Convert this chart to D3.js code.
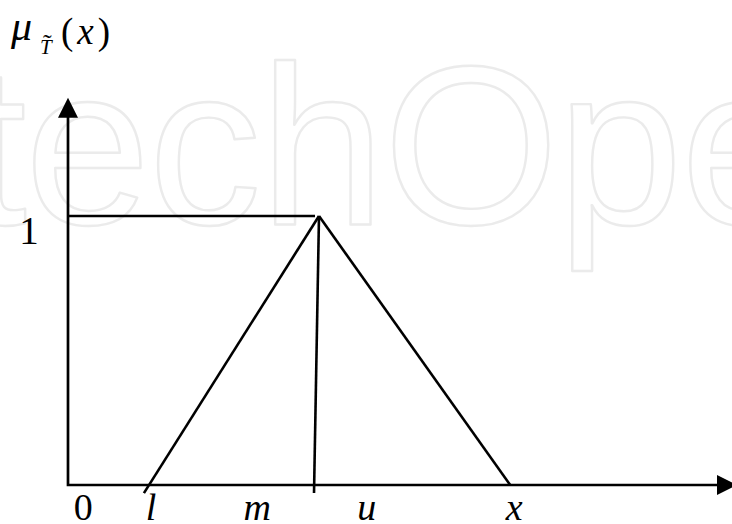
<!DOCTYPE html>
<html>
<head>
<meta charset="utf-8">
<script src="https://cdn.jsdelivr.net/npm/d3@7"></script>
<style>
  html, body { margin: 0; padding: 0; background: #fff; }
  svg { display: block; }
  .serif { font-family: "Liberation Serif", "Times New Roman", serif; fill: #000; }
</style>
</head>
<body>
<div id="root"></div>
<script>
// triangular fuzzy number (l, m, u) on a concept axis
const lVal = 1.22, mVal = 3.78, uVal = 6.66
const peak = 1

// x-axis labels: text and position along the axis
const xLabels = ['0', 'l', 'm', 'u', 'x']
const xLabelPos = [0.23, 1.25, 2.85, 4.5, 6.72]

const yTickLabel = '1'

const w = 732, h = 524

const svg = d3.select('#root')
    .append('svg')
    .attr('width', w)
    .attr('height', h)

const x = d3.scaleLinear().domain([0, 10]).range([68, 732])
const y = d3.scaleLinear().domain([0, 1]).range([485, 216])
const yTop = 1.44

// faint watermark behind the drawing
svg.append('text')
    .attr('x', -36)
    .attr('y', 224)
    .attr('font-family', '"Liberation Sans", Arial, sans-serif')
    .attr('font-size', 226)
    .attr('letter-spacing', -2)
    .attr('fill', 'none')
    .attr('stroke', '#ebebeb')
    .attr('stroke-width', 2.4)
    .attr('stroke-linejoin', 'round')
    .text('techOpen')

const line = d3.line().x(d => x(d[0])).y(d => y(d[1]))

// axes
svg.append('path')
    .attr('d', line([[0, yTop - 0.07], [0, 0], [9.97, 0]]))
    .attr('fill', 'none')
    .attr('stroke', '#000')
    .attr('stroke-width', 2.7)

// arrow heads
const yTip = [x(0), y(yTop)]
svg.append('path')
    .attr('d', `M${yTip[0]},${yTip[1]} L${yTip[0] - 10},${yTip[1] + 20} L${yTip[0] + 10},${yTip[1] + 20} Z`)
    .attr('fill', '#000')
const xTip = [x(10) + 5, y(0)]
svg.append('path')
    .attr('d', `M${xTip[0]},${xTip[1]} L${xTip[0] - 20},${xTip[1] - 10} L${xTip[0] - 20},${xTip[1] + 10} Z`)
    .attr('fill', '#000')

// left leg slightly extended below the axis
const slopeL = (mVal - lVal) / peak
const below = -0.03
const drawn = [
    [[lVal + slopeL * below, below], [mVal, peak]],
    [[mVal, peak], [uVal, 0]],
    [[mVal, peak], [mVal - 0.075, below]],
    [[0, peak], [mVal - 0.06, peak]]
]

svg.selectAll('.seg')
    .data(drawn)
    .enter()
    .append('path')
    .attr('class', 'seg')
    .attr('d', d => line(d))
    .attr('fill', 'none')
    .attr('stroke', '#000')
    .attr('stroke-width', 2.6)

// x labels
svg.selectAll('.xlab')
    .data(xLabels)
    .enter()
    .append('text')
    .attr('class', 'xlab serif')
    .attr('x', (d, i) => x(xLabelPos[i]))
    .attr('y', 520)
    .attr('text-anchor', 'middle')
    .attr('font-size', 38)
    .attr('font-style', (d, i) => i === 0 ? 'normal' : 'italic')
    .text(d => d)

// y tick label
svg.append('text')
    .attr('class', 'serif')
    .attr('x', 29)
    .attr('y', y(peak) + 28)
    .attr('text-anchor', 'middle')
    .attr('font-size', 39)
    .text(yTickLabel)

// axis title mu_T~(x)
const title = svg.append('g').attr('class', 'serif')
title.append('text')
    .attr('x', 11)
    .attr('y', 40)
    .attr('font-size', 42)
    .attr('font-style', 'italic')
    .text('μ')
title.append('text')
    .attr('x', 40)
    .attr('y', 54)
    .attr('font-size', 21)
    .attr('font-style', 'italic')
    .text('T')
title.append('text')
    .attr('x', 43)
    .attr('y', 52)
    .attr('font-size', 26)
    .text('˜')
title.append('text')
    .attr('x', 61)
    .attr('y', 44)
    .attr('font-size', 37)
    .attr('letter-spacing', 4)
    .html('(<tspan font-style="italic">x</tspan>)')
</script>
</body>
</html>
